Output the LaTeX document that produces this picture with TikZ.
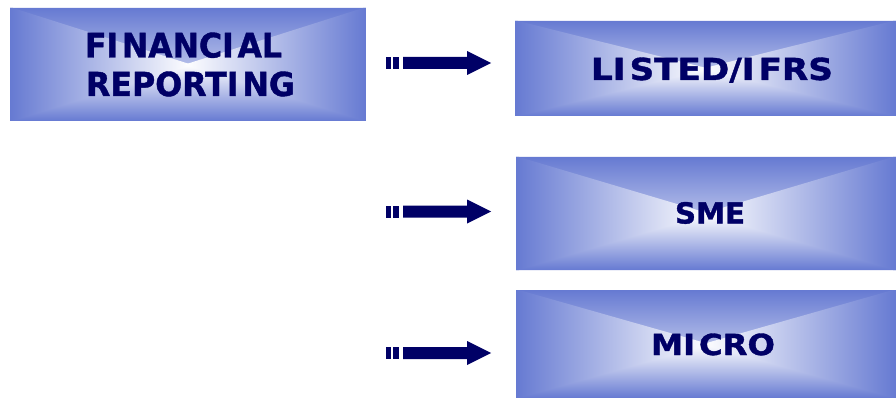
\documentclass[tikz,border=0pt]{standalone}
\usepackage{graphicx}
\usepackage{fontspec}
\setmainfont{DejaVu Sans}
\newfontfamily\lblfont{DejaVu Sans Bold}[FakeBold=1.2]
\definecolor{edgeblue}{RGB}{102,122,210}
\definecolor{navy}{RGB}{0,0,102}
\newcommand{\fitt}[3]{\resizebox{#1}{#2}{#3}}
\newcommand{\Ig}{I\kern0.12em}
\tikzset{
  gbox/.style={rectangle, inner sep=0pt, outer sep=0pt,
    path picture={
      \def\pb{path picture bounding box}
      \shade[top color=edgeblue, middle color=edgeblue!45, bottom color=white]
        (\pb.north west) -- (\pb.north east) -- (\pb.center) -- cycle;
      \shade[top color=white, middle color=edgeblue!45, bottom color=edgeblue]
        (\pb.south west) -- (\pb.south east) -- (\pb.center) -- cycle;
      \shade[left color=edgeblue, middle color=edgeblue!45, right color=white]
        (\pb.north west) -- ([xshift=3pt]\pb.north west) -- ([xshift=3pt]\pb.center)
        -- ([xshift=3pt]\pb.south west) -- (\pb.south west) -- cycle;
      \shade[left color=white, middle color=edgeblue!45, right color=edgeblue]
        (\pb.north east) -- ([xshift=-3pt]\pb.north east) -- ([xshift=-3pt]\pb.center)
        -- ([xshift=-3pt]\pb.south east) -- (\pb.south east) -- cycle;
    }},
  lbl/.style={inner sep=0pt, outer sep=0pt, text=navy, align=center, font=\lblfont},
  fatarrow/.pic={
    \fill[navy] (0,-6) rectangle (5,6);
    \fill[navy] (7,-6) rectangle (13,6);
    \fill[navy] (17,-6) -- (81,-6) -- (81,-12) -- (105,0) -- (81,12) -- (81,6) -- (17,6) -- cycle;
  }
}
\begin{document}
\begin{tikzpicture}[x=1pt,y=-1pt]
\useasboundingbox (0,0) rectangle (896,398);
\node[gbox, minimum width=356pt, minimum height=113pt] (fin) at (188,64.5) {};
\node[gbox, minimum width=381pt, minimum height=95pt] (listed) at (705.5,68.5) {};
\node[gbox, minimum width=380pt, minimum height=113pt] (sme) at (706,213.5) {};
\node[gbox, minimum width=380pt, minimum height=108pt] (micro) at (706,344) {};

\node[lbl, anchor=north, font=\lblfont\fontsize{30}{38.5}\selectfont] (fintext) at (190.5,32.5)
  {\fitt{197pt}{25pt}{F\Ig NANC\Ig AL}\hspace*{14pt}\\\fitt{209pt}{24.5pt}{REPORT\Ig NG}};
\node[lbl, anchor=base] (listedtext) at (712,80) {\fitt{242pt}{22.5pt}{L\Ig STED/\Ig FRS}};
\node[lbl, anchor=base] (smetext) at (710,223.5) {\fitt{70pt}{21.5pt}{SME}};
\node[lbl, anchor=base] (microtext) at (713,355) {\fitt{124pt}{21.5pt}{M\Ig CRO}};

\coordinate (a1) at (386,63);
\coordinate (a2) at (386,211.5);
\coordinate (a3) at (386,353);
\pic at (a1) {fatarrow};
\pic at (a2) {fatarrow};
\pic at (a3) {fatarrow};
\end{tikzpicture}
\end{document}
